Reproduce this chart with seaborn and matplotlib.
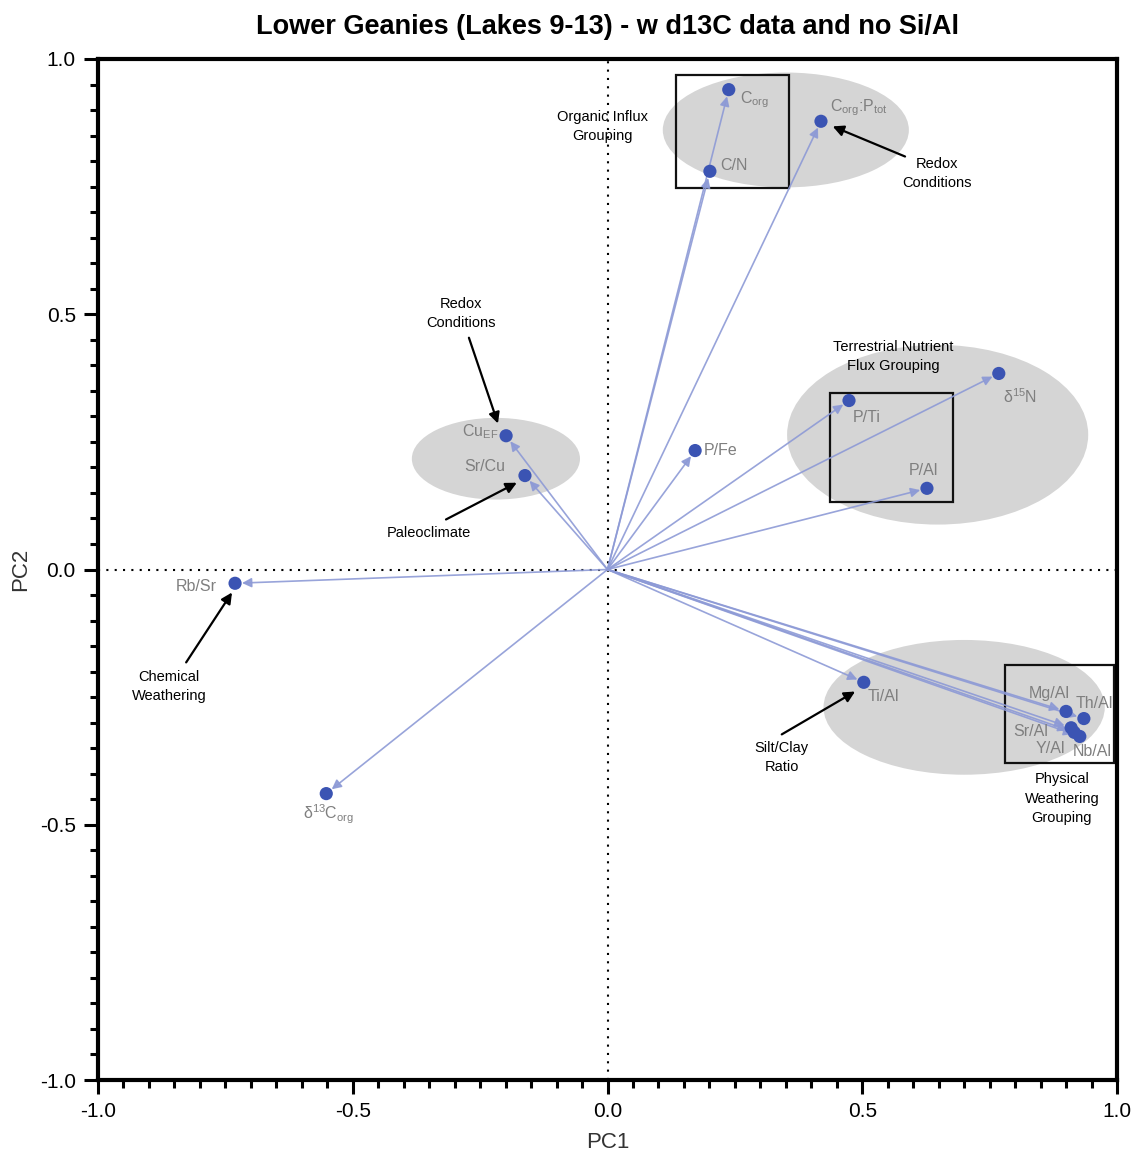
import matplotlib
matplotlib.use("Agg")
import matplotlib.pyplot as plt
from matplotlib.patches import Ellipse, Rectangle
from matplotlib.ticker import MultipleLocator, FixedLocator
import seaborn as sns
import pandas as pd

# ---- data ----
variables = ["C$_{\\mathrm{org}}$", "C/N", "C$_{\\mathrm{org}}$:P$_{\\mathrm{tot}}$", "Cu$_{\\mathrm{EF}}$",
             "Sr/Cu", "P/Fe", "P/Ti", "\u03b4$^{15}$N", "P/Al", "Rb/Sr",
             "\u03b4$^{13}$C$_{\\mathrm{org}}$", "Ti/Al", "Mg/Al", "Th/Al", "Sr/Al", "Y/Al", "Nb/Al"]
pc1 = [0.238, 0.201, 0.419, -0.199, -0.162, 0.172, 0.474, 0.768, 0.627, -0.731,
       -0.552, 0.503, 0.900, 0.935, 0.910, 0.916, 0.927]
pc2 = [0.940, 0.780, 0.878, 0.262, 0.184, 0.233, 0.331, 0.384, 0.159, -0.027,
       -0.439, -0.221, -0.278, -0.292, -0.310, -0.319, -0.327]
label_x = [0.260, 0.221, 0.437, -0.286, -0.282, 0.189, 0.482, 0.776, 0.592, -0.847,
           -0.598, 0.511, 0.827, 0.918, 0.796, 0.841, 0.914]
label_y = [0.921, 0.791, 0.905, 0.270, 0.202, 0.233, 0.298, 0.339, 0.194, -0.033,
           -0.480, -0.249, -0.243, -0.262, -0.317, -0.351, -0.357]

# grouping ellipses: center x, center y, width, height
ell_cx = [0.350, -0.219, 0.648, 0.700]
ell_cy = [0.861, 0.217, 0.264, -0.270]
ell_w = [0.483, 0.330, 0.591, 0.552]
ell_h = [0.225, 0.160, 0.352, 0.264]

# grouping boxes: x0, y0, x1, y1
box_x0 = [0.134, 0.437, 0.780]
box_y0 = [0.748, 0.133, -0.380]
box_x1 = [0.356, 0.678, 0.994]
box_y1 = [0.969, 0.346, -0.188]

# annotations
note_text = ["Organic Influx\nGrouping", "Redox\nConditions", "Redox\nConditions", "Paleoclimate",
             "Terrestrial Nutrient\nFlux Grouping", "Chemical\nWeathering", "Silt/Clay\nRatio",
             "Physical\nWeathering\nGrouping"]
note_x = [-0.009, 0.647, -0.288, -0.350, 0.560, -0.861, 0.342, 0.892]
note_y = [0.868, 0.776, 0.501, 0.072, 0.417, -0.229, -0.368, -0.449]
# arrows (tail -> head); None where no arrow
arr_tail = [None, (0.584, 0.809), (-0.272, 0.454), (-0.317, 0.098), None, (-0.827, -0.182), (0.342, -0.323), None]
arr_head = [None, (0.442, 0.868), (-0.215, 0.286), (-0.178, 0.170), None, (-0.737, -0.045), (0.486, -0.239), None]

title = "Lower Geanies (Lakes 9-13) - w d13C data and no Si/Al"

# ---- style ----
sns.set_theme(style="ticks")
plt.rcParams["font.family"] = ["Liberation Sans", "DejaVu Sans"]
plt.rcParams["mathtext.fontset"] = "custom"
plt.rcParams["mathtext.rm"] = "Liberation Sans"
plt.rcParams["mathtext.it"] = "Liberation Sans"
plt.rcParams["mathtext.default"] = "regular"

fig = plt.figure(figsize=(11.4, 11.59), dpi=100)
ax = fig.add_axes([98 / 1140, 1 - 1080 / 1159, (1117 - 98) / 1140, (1080 - 59) / 1159])

for cx, cy, w, h in zip(ell_cx, ell_cy, ell_w, ell_h):
    ax.add_patch(Ellipse((cx, cy), w, h, facecolor="#d5d5d5", edgecolor="none", zorder=0))

for x0, y0, x1, y1 in zip(box_x0, box_y0, box_x1, box_y1):
    ax.add_patch(Rectangle((x0, y0), x1 - x0, y1 - y0, facecolor="none", edgecolor="#111111",
                           lw=1.6, zorder=1))

ax.axhline(0, color="black", lw=1.5, ls=(0, (1, 3)), zorder=1)
ax.axvline(0, color="black", lw=1.5, ls=(0, (1, 3)), zorder=1)

for x, y in zip(pc1, pc2):
    ax.annotate("", xy=(x, y), xytext=(0, 0),
                arrowprops=dict(arrowstyle="-|>", color="#8d9ad6", lw=1.2, shrinkA=0, shrinkB=5,
                                mutation_scale=14, alpha=0.9), zorder=2)

df = pd.DataFrame({"PC1": pc1, "PC2": pc2, "var": variables})
sns.scatterplot(data=df, x="PC1", y="PC2", ax=ax, color="#3b54b3", s=90, edgecolor="none", zorder=3)

for t, lx, ly in zip(variables, label_x, label_y):
    ax.text(lx, ly, t, color="#7f7f7f", fontsize=11.5, ha="left", va="center", zorder=4)

for t, nx, ny, tail, head in zip(note_text, note_x, note_y, arr_tail, arr_head):
    ax.text(nx, ny, t, color="black", fontsize=10.5, ha="center", va="center",
            linespacing=1.5, zorder=4)
    if tail is not None:
        ax.annotate("", xy=head, xytext=tail,
                    arrowprops=dict(arrowstyle="-|>", color="black", lw=1.6, shrinkA=0, shrinkB=0,
                                    mutation_scale=16), zorder=4)

ax.set_xlim(-1.0, 1.0)
ax.set_ylim(-1.0, 1.0)
ax.xaxis.set_major_locator(FixedLocator([-1.0, -0.5, 0.0, 0.5, 1.0]))
ax.yaxis.set_major_locator(FixedLocator([-1.0, -0.5, 0.0, 0.5, 1.0]))
ax.xaxis.set_minor_locator(MultipleLocator(0.05))
ax.yaxis.set_minor_locator(MultipleLocator(0.05))
ax.set_xticklabels(["-1.0", "-0.5", "0.0", "0.5", "1.0"])
ax.set_yticklabels(["-1.0", "-0.5", "0.0", "0.5", "1.0"])
ax.tick_params(which="major", direction="out", length=10, width=2.2, labelsize=15, color="black",
               labelcolor="black", pad=6)
ax.tick_params(which="minor", direction="out", length=6, width=2.2, color="black")
for s in ax.spines.values():
    s.set_linewidth(3)
    s.set_color("black")
    s.set_visible(True)

ax.set_xlabel("PC1", fontsize=16, labelpad=8, color="#333333")
ax.set_ylabel("PC2", fontsize=16, labelpad=6, color="#333333")
ax.set_title(title, fontsize=19.5, fontweight="bold", pad=18, color="black")

fig.savefig("out.png", dpi=100)
